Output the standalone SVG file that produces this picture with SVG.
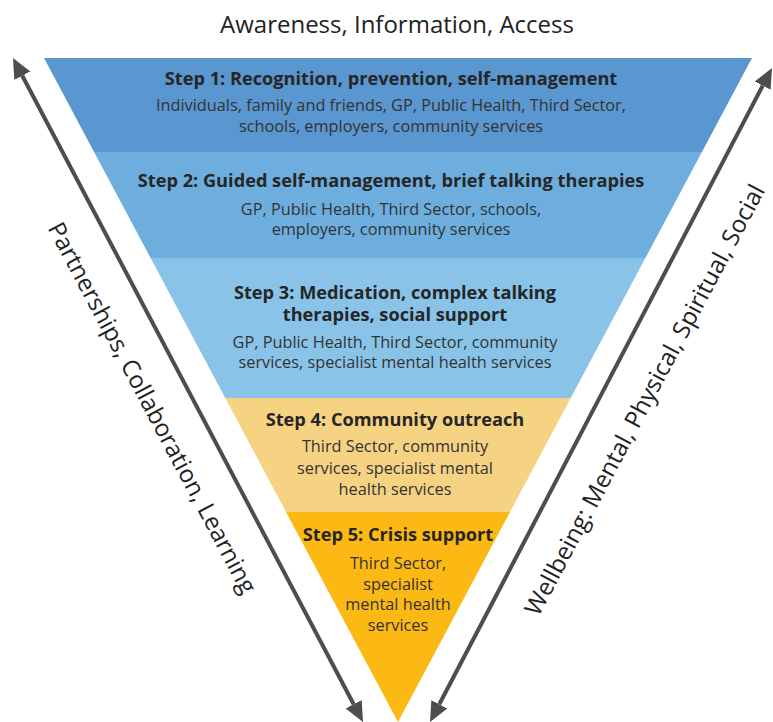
<svg xmlns="http://www.w3.org/2000/svg" width="773" height="722" viewBox="0 0 773 722">
<defs>
<style>
text{font-family:"Open Sans","Noto Sans","Liberation Sans",sans-serif;fill:#262626;text-anchor:middle}
.t{font-size:18.2px;font-weight:700}
.b{font-size:16.3px;fill:#333}
.side{font-size:24px;fill:#222}
.title{font-size:24px;fill:#222}
.arrow{stroke:#4d4d4d;stroke-width:4;fill:none}
</style>
<marker id="ah" viewBox="0 -9 20 18" refX="0" refY="0" markerWidth="20" markerHeight="18" markerUnits="userSpaceOnUse" orient="auto-start-reverse">
<path d="M0,-9 L20,0 L0,9 z" fill="#4d4d4d"/>
</marker>
</defs>
<rect width="773" height="722" fill="#ffffff"/>
<text class="title" x="397" y="33">Awareness, Information, Access</text>
<g id="step1">
<polygon points="44,58 752,58 701.9,152 94.1,152" fill="#5a96cf"/>
<text class="t" x="391" y="85">Step 1: Recognition, prevention, self-management</text>
<text class="b" x="391" y="111">Individuals, family and friends, GP, Public Health, Third Sector,</text>
<text class="b" x="391" y="132">schools, employers, community services</text>
</g>
<g id="step2">
<polygon points="94.1,152 701.9,152 645.4,258 150.6,258" fill="#6daede"/>
<text class="t" x="391" y="187">Step 2: Guided self-management, brief talking therapies</text>
<text class="b" x="391" y="215">GP, Public Health, Third Sector, schools,</text>
<text class="b" x="391" y="235">employers, community services</text>
</g>
<g id="step3">
<polygon points="150.6,258 645.4,258 570.7,398 225.3,398" fill="#89c3e8"/>
<text class="t" x="395" y="299">Step 3: Medication, complex talking</text>
<text class="t" x="395" y="321">therapies, social support</text>
<text class="b" x="395" y="348">GP, Public Health, Third Sector, community</text>
<text class="b" x="395" y="368">services, specialist mental health services</text>
</g>
<g id="step4">
<polygon points="225.3,398 570.7,398 510,512 286,512" fill="#f6d283"/>
<text class="t" x="395" y="426">Step 4: Community outreach</text>
<text class="b" x="395" y="452">Third Sector, community</text>
<text class="b" x="395" y="474">services, specialist mental</text>
<text class="b" x="395" y="495">health services</text>
</g>
<g id="step5">
<polygon points="286,512 510,512 398,722" fill="#fcb813"/>
<text class="t" x="398" y="541">Step 5: Crisis support</text>
<text class="b" x="398" y="569">Third Sector,</text>
<text class="b" x="398" y="590">specialist</text>
<text class="b" x="398" y="610">mental health</text>
<text class="b" x="398" y="631">services</text>
</g>
<g id="connectors">
<line class="arrow" x1="22.3" y1="75.7" x2="353.7" y2="704.3" marker-start="url(#ah)" marker-end="url(#ah)"/>
<line class="arrow" x1="762.7" y1="85.7" x2="439.3" y2="704.3" marker-start="url(#ah)" marker-end="url(#ah)"/>
</g>
<text class="side" transform="translate(152,408) rotate(62)" dy="8">Partnerships, Collaboration, Learning</text>
<text class="side" transform="translate(645,400) rotate(-62)" dy="8">Wellbeing: Mental, Physical, Spiritual, Social</text>
</svg>
